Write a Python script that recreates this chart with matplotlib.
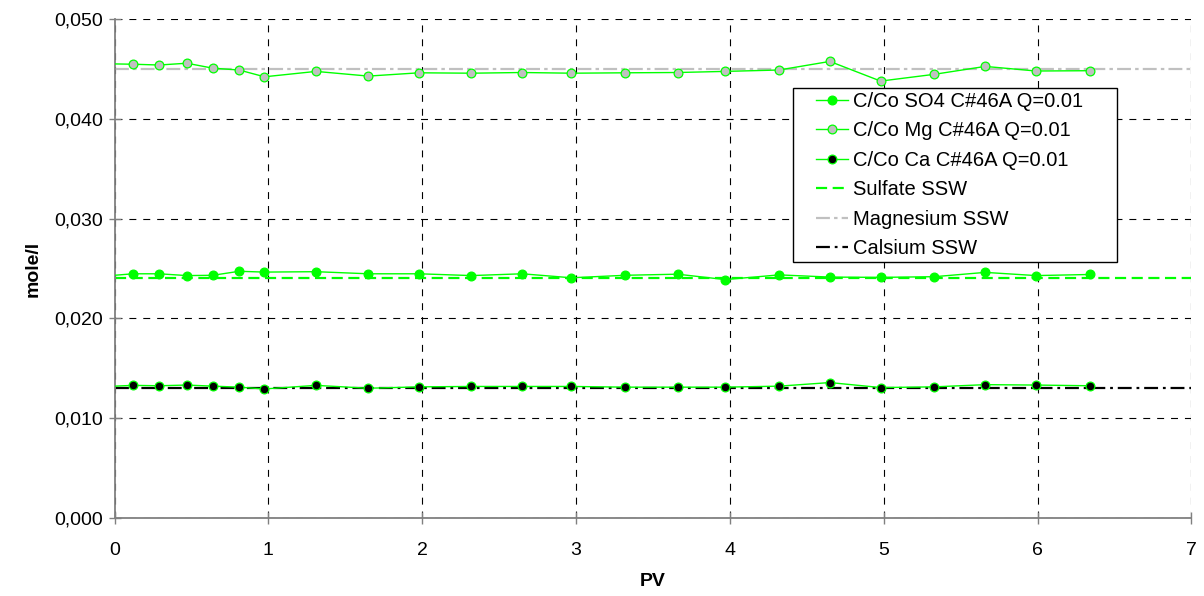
import matplotlib
matplotlib.use('Agg')
import matplotlib.pyplot as plt
from matplotlib.ticker import FuncFormatter, MultipleLocator
from matplotlib.lines import Line2D
from matplotlib.legend_handler import HandlerLine2D

plt.rcParams['font.family'] = ['Liberation Sans', 'DejaVu Sans']
plt.rcParams['lines.scale_dashes'] = False

# ---- data ----
pv = [0.0, 0.12, 0.29, 0.47, 0.64, 0.81, 0.975, 1.31, 1.65, 1.98, 2.32, 2.65,
      2.97, 3.32, 3.66, 3.97, 4.32, 4.65, 4.98, 5.33, 5.66, 5.99, 6.34]
so4 = [0.02432, 0.02447, 0.02447, 0.02429, 0.02432, 0.02472, 0.02464, 0.02468,
       0.02447, 0.02447, 0.02429, 0.02447, 0.02407, 0.02432, 0.02443, 0.02389,
       0.02436, 0.02414, 0.02411, 0.02418, 0.02461, 0.02429, 0.02440]
mg = [0.04550, 0.04547, 0.04539, 0.04557, 0.04507, 0.04489, 0.04421, 0.04475,
      0.04428, 0.04461, 0.04457, 0.04464, 0.04457, 0.04461, 0.04464, 0.04475,
      0.04489, 0.04575, 0.04378, 0.04446, 0.04525, 0.04479, 0.04482]
ca = [0.01321, 0.01329, 0.01325, 0.01332, 0.01321, 0.01311, 0.01293, 0.01329,
      0.01300, 0.01314, 0.01318, 0.01318, 0.01318, 0.01311, 0.01311, 0.01311,
      0.01321, 0.01357, 0.01307, 0.01314, 0.01336, 0.01332, 0.01325]

ssw_x = [0, 7]
sulfate_ssw = [0.024, 0.024]
magnesium_ssw = [0.045, 0.045]
calsium_ssw = [0.013, 0.013]

series_labels = ['C/Co SO4 C#46A Q=0.01', 'C/Co Mg C#46A Q=0.01',
                 'C/Co Ca C#46A Q=0.01']
ref_labels = ['Sulfate SSW', 'Magnesium SSW', 'Calsium SSW']
x_ticks = [0, 1, 2, 3, 4, 5, 6, 7]

GREEN = '#00FF00'

fig = plt.figure(figsize=(12.04, 5.96), dpi=100)
ax = fig.add_axes([0.0951, 0.1309, 0.8944, 0.8372])

# reference lines
l_sul, = ax.plot(ssw_x, sulfate_ssw, color=GREEN, lw=1.6,
                 dashes=(8, 4), label=ref_labels[0], zorder=2)
l_mag, = ax.plot(ssw_x, magnesium_ssw, color='#C0C0C0', lw=1.6,
                 dashes=(10, 3, 2.5, 3), label=ref_labels[1], zorder=2)
l_cal, = ax.plot(ssw_x, calsium_ssw, color='black', lw=1.6,
                 dashes=(10, 3.5, 2, 3.5), label=ref_labels[2], zorder=2)

handles = []
for y, fc, lab in [(so4, GREEN, series_labels[0]),
                   (mg, '#C0C0C0', series_labels[1]),
                   (ca, 'black', series_labels[2])]:
    ax.plot(pv[:2], y[:2], color=GREEN, lw=1.0, zorder=3)
    h, = ax.plot(pv[1:], y[1:], color=GREEN, lw=1.0, marker='o', ms=6.3,
                 mfc=fc, mec=GREEN, mew=0.9, label=lab, zorder=4)
    handles.append(h)

ax.set_xlim(0, 7)
ax.set_ylim(0, 0.05)
ax.set_xticks(x_ticks)
ax.yaxis.set_major_locator(MultipleLocator(0.01))
ax.yaxis.set_major_formatter(FuncFormatter(lambda v, p: f'{v:.3f}'.replace('.', ',')))

ax.grid(True, color='black', linestyle=(0, (5, 5)), lw=0.8, zorder=1)
for s in ['top', 'right']:
    ax.spines[s].set_visible(False)
for s in ['left', 'bottom']:
    ax.spines[s].set_color('#808080')
    ax.spines[s].set_linewidth(1.3)
ax.tick_params(axis='both', direction='inout', length=9, width=1,
               color='#808080', labelsize=14, labelcolor='black')
ax.tick_params(axis='y', pad=4)
ax.tick_params(axis='x', pad=13)

ax.set_xlabel('PV', fontsize=14, fontweight='bold', labelpad=10)
ax.set_ylabel('mole/l', fontsize=14, fontweight='bold', labelpad=9)

leg = ax.legend(handles + [l_sul, l_mag, l_cal],
                series_labels + ref_labels,
                loc='upper left', bbox_to_anchor=(0.630, 0.3, 0.301, 0.562),
                mode='expand',
                borderaxespad=0, fontsize=14.5, frameon=True, fancybox=False,
                edgecolor='black', framealpha=1, handlelength=2.55,
                handletextpad=0.25, labelspacing=0.52, borderpad=0.2,
                numpoints=1,
                handler_map={Line2D: HandlerLine2D(xpad=0.95)})
leg.get_frame().set_linewidth(1.0)
leg.set_zorder(10)

fig.savefig('out.png', dpi=100)
